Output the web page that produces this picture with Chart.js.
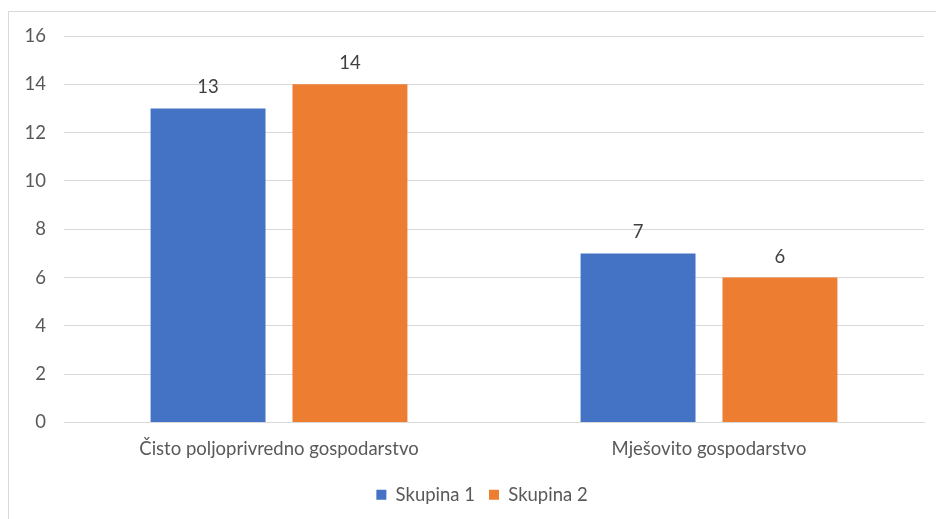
<!DOCTYPE html>
<html>
<head>
<meta charset="utf-8">
<script src="https://cdn.jsdelivr.net/npm/chart.js@4.4.1/dist/chart.umd.min.js"></script>
<style>
  html, body { margin: 0; padding: 0; background: #fff; overflow: hidden; }
  #frame { position: absolute; left: 8px; top: 11px; width: 960px; height: 560px; border: 1px solid #d9d9d9; box-sizing: border-box; }
  #wrap { position: absolute; left: 0; top: 0; width: 936px; height: 519px; }
</style>
</head>
<body>
<div id="frame"></div>
<div id="wrap"><canvas id="c"></canvas></div>
<script>
const categories = ["Čisto poljoprivredno gospodarstvo", "Mješovito gospodarstvo"];
const seriesNames = ["Skupina 1", "Skupina 2"];
const skupina1 = [13, 7];
const skupina2 = [14, 6];
const yTicks = [0, 2, 4, 6, 8, 10, 12, 14, 16];

const FONT = "Lato, 'Liberation Sans', sans-serif";
const FS = 18.5;
const TXT = "#595959";

const dataLabels = {
  id: "dataLabels",
  afterDatasetsDraw(chart) {
    const ctx = chart.ctx;
    ctx.save();
    ctx.font = FS + "px " + FONT;
    ctx.fillStyle = "#404040";
    ctx.textAlign = "center";
    ctx.textBaseline = "middle";
    chart.data.datasets.forEach((ds, i) => {
      const meta = chart.getDatasetMeta(i);
      meta.data.forEach((bar, j) => {
        ctx.fillText(String(ds.data[j]), bar.x, bar.y - 21);
      });
    });
    ctx.restore();
  }
};

const legendShift = {
  id: "legendShift",
  afterLayout(chart) {
    const L = chart.legend;
    if (L) { L.left += 20; L.right += 20; }
  }
};

new Chart(document.getElementById("c"), {
  type: "bar",
  data: {
    labels: categories,
    datasets: [
      { label: seriesNames[0], data: skupina1, backgroundColor: "#4472C4" },
      { label: seriesNames[1], data: skupina2, backgroundColor: "#ED7D31" }
    ]
  },
  options: {
    responsive: true,
    maintainAspectRatio: false,
    animation: false,
    devicePixelRatio: 1,
    categoryPercentage: 0.66,
    barPercentage: 0.81,
    layout: { padding: { left: 0, right: 12, top: 36, bottom: 5 } },
    plugins: {
      tooltip: { enabled: false },
      legend: {
        position: "bottom",
        labels: {
          font: { family: FONT, size: FS },
          color: TXT,
          boxWidth: 10,
          boxHeight: 10,
          padding: 14
        }
      }
    },
    scales: {
      x: {
        grid: { display: false, drawTicks: false },
        border: { display: true, color: "#d9d9d9", width: 1 },
        ticks: { font: { family: FONT, size: FS }, color: TXT, padding: 15 },
        afterFit(s) { s.height = 49; }
      },
      y: {
        min: 0,
        max: 16,
        afterBuildTicks(s) { s.ticks = yTicks.map(v => ({ value: v })); },
        grid: { color: "#d9d9d9", drawTicks: false, lineWidth: 1 },
        border: { display: false },
        ticks: { font: { family: FONT, size: FS }, color: TXT, padding: 18 },
        afterFit(s) { s.width = 64; }
      }
    }
  },
  plugins: [dataLabels, legendShift]
});
</script>
</body>
</html>
